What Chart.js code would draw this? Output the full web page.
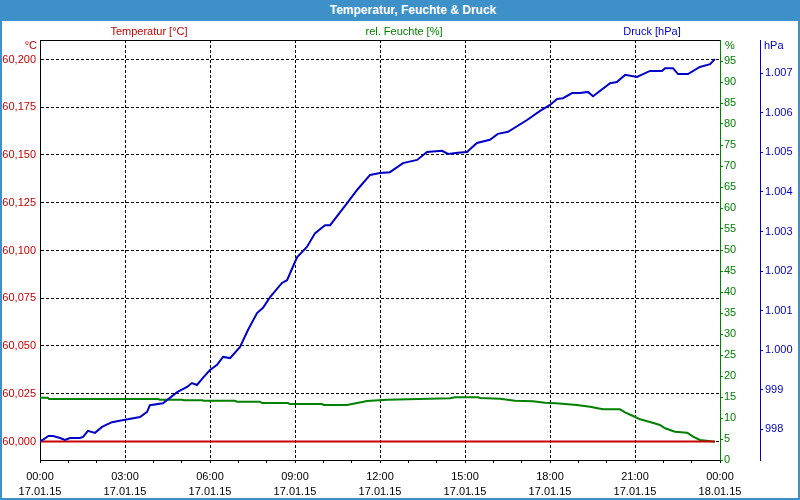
<!DOCTYPE html>
<html>
<head>
<meta charset="utf-8">
<script src="https://cdn.jsdelivr.net/npm/chart.js@4"></script>
<style>
  body { margin: 0; background: #fff; }
  #box { position: relative; width: 800px; height: 500px; background: #fff; overflow: hidden; }
  #box canvas { position: absolute; left: 0; top: 0; }
  #titel { position: absolute; left: 0; top: 0; width: 800px; height: 21px; background: #3d90c8; }
  #titel span { position: absolute; left: 413px; top: 3px; transform: translateX(-50%);
    font: bold 12px "Liberation Sans", sans-serif; color: #fff; white-space: nowrap; }
  .rand { position: absolute; background: #3d90c8; }
</style>
</head>
<body>
<div id="box">
  <canvas id="chart" width="800" height="500"></canvas>
  <div id="titel"><span>Temperatur, Feuchte &amp; Druck</span></div>
  <div class="rand" style="left:0;top:0;width:2px;height:500px"></div>
  <div class="rand" style="left:798px;top:0;width:2px;height:500px"></div>
  <div class="rand" style="left:0;top:498px;width:800px;height:2px"></div>
</div>
<script>
// Achsenbeschriftung (Zeit)
const zeitLabels = ['00:00', '03:00', '06:00', '09:00', '12:00', '15:00', '18:00', '21:00', '00:00'];
const datumLabels = ['17.01.15', '17.01.15', '17.01.15', '17.01.15', '17.01.15', '17.01.15', '17.01.15', '17.01.15', '18.01.15'];

// Ticks der Y-Achsen
const tempTicks = [60.000, 60.025, 60.050, 60.075, 60.100, 60.125, 60.150, 60.175, 60.200];
const feuchteTicks = [0, 5, 10, 15, 20, 25, 30, 35, 40, 45, 50, 55, 60, 65, 70, 75, 80, 85, 90, 95];
const druckTicks = [998, 999, 1000, 1001, 1002, 1003, 1004, 1005, 1006, 1007];

// Temperatur [°C] (Stunden seit 17.01.15 00:00)
const tempStunden = [0, 6, 12, 18, 23.82];
const tempWerte = [60.000, 60.000, 60.000, 60.000, 60.000];

// rel. Feuchte [%]
const feuchteStunden = [0, 0.28, 0.32, 4.16, 4.24, 5.01, 5.08, 5.72, 5.79, 6.88, 6.95, 7.76, 7.84, 8.75, 8.82, 9.95,
  10.02, 10.84, 11.01, 11.29, 11.54, 12.25, 14.47, 14.65, 15.46, 15.53, 16.24, 16.76, 17.40, 17.82, 18.21, 18.95,
  19.41, 19.87, 20.47, 20.65, 20.93, 21.18, 21.53, 21.88, 22.06, 22.41, 22.84, 23.05, 23.29, 23.82];
const feuchteWerte = [14.83, 14.83, 14.52, 14.52, 14.36, 14.36, 14.21, 14.21, 14.12, 14.12, 13.88, 13.88, 13.57, 13.57, 13.33, 13.33,
  13.10, 13.10, 13.33, 13.69, 14.05, 14.36, 14.69, 14.93, 14.93, 14.76, 14.60, 14.12, 13.98, 13.64, 13.50, 13.10,
  12.70, 12.07, 12.07, 11.35, 10.48, 9.69, 9.05, 8.33, 7.55, 6.74, 6.50, 5.55, 4.76, 4.36];

// Druck [hPa]
const druckStunden = [0, 0.11, 0.30, 0.46, 0.71, 0.88, 1.06, 1.41, 1.52, 1.69, 1.94, 2.19, 2.54, 3.0, 3.53, 3.78, 3.88,
  4.34, 4.84, 5.19, 5.36, 5.54, 5.75, 6.0, 6.25, 6.46, 6.71, 7.06, 7.34, 7.66, 7.87, 8.12, 8.54, 8.72, 9.07, 9.42,
  9.71, 10.06, 10.24, 10.84, 11.19, 11.65, 12.0, 12.35, 12.81, 13.31, 13.66, 14.19, 14.4, 14.75, 15.07, 15.42,
  15.88, 16.16, 16.52, 17.19, 17.65, 18.0, 18.25, 18.46, 18.78, 19.06, 19.34, 19.52, 20.12, 20.36, 20.65, 21.07,
  21.53, 21.95, 22.06, 22.34, 22.52, 22.87, 23.29, 23.65, 23.82];
const druckWerte = [997.70, 997.74, 997.83, 997.83, 997.78, 997.73, 997.78, 997.78, 997.81, 997.96, 997.91,
  998.06, 998.18, 998.24, 998.31, 998.44, 998.61, 998.66, 998.94, 999.07, 999.17,
  999.12, 999.30, 999.50, 999.63, 999.83, 999.80, 1000.08, 1000.51, 1000.94, 1001.07,
  1001.34, 1001.70, 1001.77, 1002.35, 1002.61, 1002.96, 1003.16, 1003.16, 1003.72, 1004.05,
  1004.43, 1004.48, 1004.50, 1004.73, 1004.81, 1005.01, 1005.04, 1004.96, 1004.99, 1005.01,
  1005.24, 1005.32, 1005.47, 1005.52, 1005.82, 1006.05, 1006.20, 1006.35, 1006.37, 1006.50,
  1006.50, 1006.53, 1006.42, 1006.75, 1006.78, 1006.96, 1006.91, 1007.06, 1007.06, 1007.13,
  1007.13, 1006.98, 1006.98, 1007.16, 1007.23, 1007.36];

const ROT = '#c80000';
const GRUEN = '#008000';
const BLAU = '#0000c8';

function punkte(xs, ys) {
    return xs.map((x, i) => ({ x: x, y: ys[i] }));
}

function setzeTicks(werte) {
    return function (scale) {
        scale.ticks = werte.map(v => ({ value: v }));
    };
}

function breite(w) {
    return function (scale) { scale.width = w; };
}

// Beschriftung oberhalb des Diagramms und obere Rahmenlinie
const kopfPlugin = {
    id: 'kopf',
    afterDraw(chart) {
        const ctx = chart.ctx;
        const a = chart.chartArea;
        ctx.save();
        ctx.strokeStyle = '#000';
        ctx.lineWidth = 1;
        ctx.beginPath();
        ctx.moveTo(a.left, a.top + 0.5);
        ctx.lineTo(a.right, a.top + 0.5);
        ctx.stroke();

        ctx.font = '11px "Liberation Sans"';
        ctx.textBaseline = 'middle';
        ctx.textAlign = 'center';
        ctx.fillStyle = ROT;
        ctx.fillText('Temperatur [°C]', 149, 32);
        ctx.fillStyle = GRUEN;
        ctx.fillText('rel. Feuchte [%]', 404, 32);
        ctx.fillStyle = BLAU;
        ctx.fillText('Druck [hPa]', 652, 32);

        ctx.textAlign = 'right';
        ctx.fillStyle = ROT;
        ctx.fillText('°C', 37, 46);
        ctx.textAlign = 'left';
        ctx.fillStyle = GRUEN;
        ctx.fillText('%', 725, 46);
        ctx.fillStyle = BLAU;
        ctx.fillText('hPa', 764, 46);
        ctx.restore();
    }
};

Chart.defaults.font.family = '"Liberation Sans", sans-serif';
Chart.defaults.font.size = 11;

new Chart(document.getElementById('chart'), {
    type: 'line',
    data: {
        datasets: [{
            label: 'Druck [hPa]',
            data: punkte(druckStunden, druckWerte),
            yAxisID: 'yP',
            borderColor: BLAU,
            borderWidth: 2,
            order: 0
        }, {
            label: 'Temperatur [°C]',
            data: punkte(tempStunden, tempWerte),
            yAxisID: 'yT',
            borderColor: ROT,
            borderWidth: 2,
            order: 1
        }, {
            label: 'rel. Feuchte [%]',
            data: punkte(feuchteStunden, feuchteWerte),
            yAxisID: 'yH',
            borderColor: GRUEN,
            borderWidth: 2,
            order: 2
        }]
    },
    options: {
        responsive: false,
        animation: false,
        layout: { padding: { top: 40, left: 0, right: 0, bottom: 0 } },
        elements: { point: { radius: 0 }, line: { tension: 0 } },
        plugins: { legend: { display: false }, tooltip: { enabled: false } },
        scales: {
            x: {
                type: 'linear',
                min: 0,
                max: 24,
                afterFit(scale) { scale.height = 40; },
                ticks: {
                    stepSize: 1,
                    autoSkip: false,
                    maxRotation: 0,
                    color: '#000',
                    padding: 6,
                    font: { size: 11, lineHeight: '15px' },
                    callback(v) {
                        if (v % 3 !== 0) return '';
                        const i = v / 3;
                        return [zeitLabels[i], datumLabels[i]];
                    }
                },
                grid: {
                    color(ctx) {
                        const v = ctx.tick ? ctx.tick.value : 0;
                        return (v % 3 === 0 && v > 0 && v < 24) ? '#000' : 'rgba(0,0,0,0)';
                    },
                    tickColor: '#000',
                    tickLength: 3
                },
                border: { color: '#000', width: 1, dash: [3, 2] }
            },
            yT: {
                position: 'left',
                min: 59.99031,
                max: 60.21021,
                afterFit: breite(40),
                afterBuildTicks: setzeTicks(tempTicks),
                ticks: {
                    color: ROT,
                    padding: 4,
                    callback: v => v.toFixed(3).replace('.', ',')
                },
                grid: { color: '#000', drawTicks: false },
                border: { color: '#000', width: 1, dash: [3, 2] }
            },
            yH: {
                position: 'right',
                weight: 0,
                min: 0,
                max: 100,
                afterFit: breite(40),
                afterBuildTicks: setzeTicks(feuchteTicks),
                ticks: { color: GRUEN, padding: 1 },
                grid: { drawOnChartArea: false, tickColor: GRUEN, tickLength: 3 },
                border: { color: GRUEN, width: 1 }
            },
            yP: {
                position: 'right',
                weight: 1,
                min: 997.224,
                max: 1007.842,
                afterFit: breite(40),
                afterBuildTicks: setzeTicks(druckTicks),
                ticks: {
                    color: BLAU,
                    padding: 2,
                    callback: v => v >= 1000 ? Math.floor(v / 1000) + '.' + String(v % 1000).padStart(3, '0') : String(v)
                },
                grid: { drawOnChartArea: false, tickColor: BLAU, tickLength: 3 },
                border: { color: BLAU, width: 1 }
            }
        }
    },
    plugins: [kopfPlugin]
});
</script>
</body>
</html>
